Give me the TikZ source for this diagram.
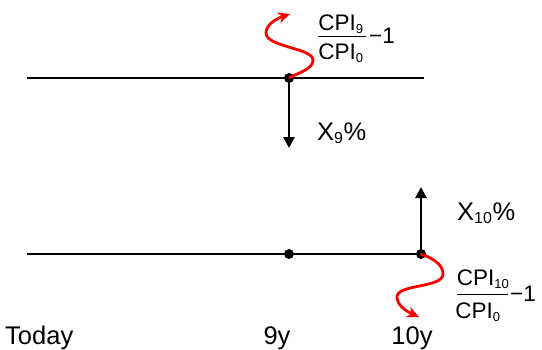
\documentclass[tikz,border=0pt]{standalone}
\usepackage{fontspec}
\setmainfont{Liberation Sans}
\usetikzlibrary{arrows.meta}
\tikzset{
  axis/.style={line width=2.8pt},
  dotpt/.style={circle,fill=black,inner sep=0pt,minimum size=10pt},
  flow/.style={line width=2.8pt,-{Triangle[length=11pt,width=11pt]}},
  wave/.style={red,line width=2.8pt,-{Stealth[length=12pt,width=11pt]}},
  lbl/.style={font=\fontsize{25.5}{30}\selectfont,inner sep=0pt},
  frac/.style={font=\fontsize{22.5}{26}\selectfont,inner sep=0pt}
}
\newcommand{\sbs}[1]{\textsubscript{\fontsize{13}{14}\selectfont #1}}
\newcommand{\sbx}[1]{\textsubscript{\fontsize{16}{17}\selectfont #1}}
\begin{document}
\begin{tikzpicture}[x=1pt,y=-1pt]
\useasboundingbox (0,0) rectangle (542,349);
% top line
\coordinate (tl) at (27,78);
\coordinate (tr) at (424,78);
\draw[axis] (tl) -- (tr);
\node[dotpt] (d9a) at (289,78) {};
\coordinate (a9) at (289,148);
\draw[flow] (d9a.center) -- (a9);
\node[lbl,anchor=base west] (x9) at (317,140) {X\sbx{9}\%};
% top wave
\coordinate (w1) at (290,14);
\draw[wave] (d9a.center) .. controls (300,72) and (313,69) .. (313,60)
  .. controls (313,48) and (266,47) .. (266,33)
  .. controls (266,24) and (278,18) .. (w1);
% top fraction
\node[frac,anchor=base] (n9) at (341,30) {CPI\sbs{9}};
\node[frac,anchor=base] (dn9) at (341,59) {CPI\sbs{0}};
\draw[line width=1pt] (318,36) -- (366,36);
\node[frac,anchor=base west] (m9) at (369,43) {\char"2212 1};
% bottom line
\coordinate (bl) at (27,254);
\coordinate (br) at (421,254);
\draw[axis] (bl) -- (br);
\node[dotpt] (d9b) at (289,254) {};
\node[dotpt] (d10) at (421,254) {};
\coordinate (a10) at (421,187);
\draw[flow] (d10.center) -- (a10);
\node[lbl,anchor=base west] (x10) at (457,220) {X\sbx{10}\%};
% bottom wave
\coordinate (w2) at (419,317);
\draw[wave] (d10.center) .. controls (432,258) and (443,264) .. (443,274)
  .. controls (443,288) and (397,284) .. (397,297)
  .. controls (397,306) and (408,312) .. (w2);
% bottom fraction
\node[frac,anchor=base] (n10) at (483,285) {CPI\sbs{10}};
\node[frac,anchor=base] (dn10) at (478,318) {CPI\sbs{0}};
\draw[line width=1pt] (457,294) -- (508,294);
\node[frac,anchor=base west] (m10) at (510,301) {\char"2212 1};
% axis labels
\node[lbl,anchor=base west] (today) at (5,344) {Today};
\node[lbl,anchor=base] (l9) at (277,344) {9y};
\node[lbl,anchor=base] (l10) at (412,344) {10y};
\end{tikzpicture}
\end{document}
